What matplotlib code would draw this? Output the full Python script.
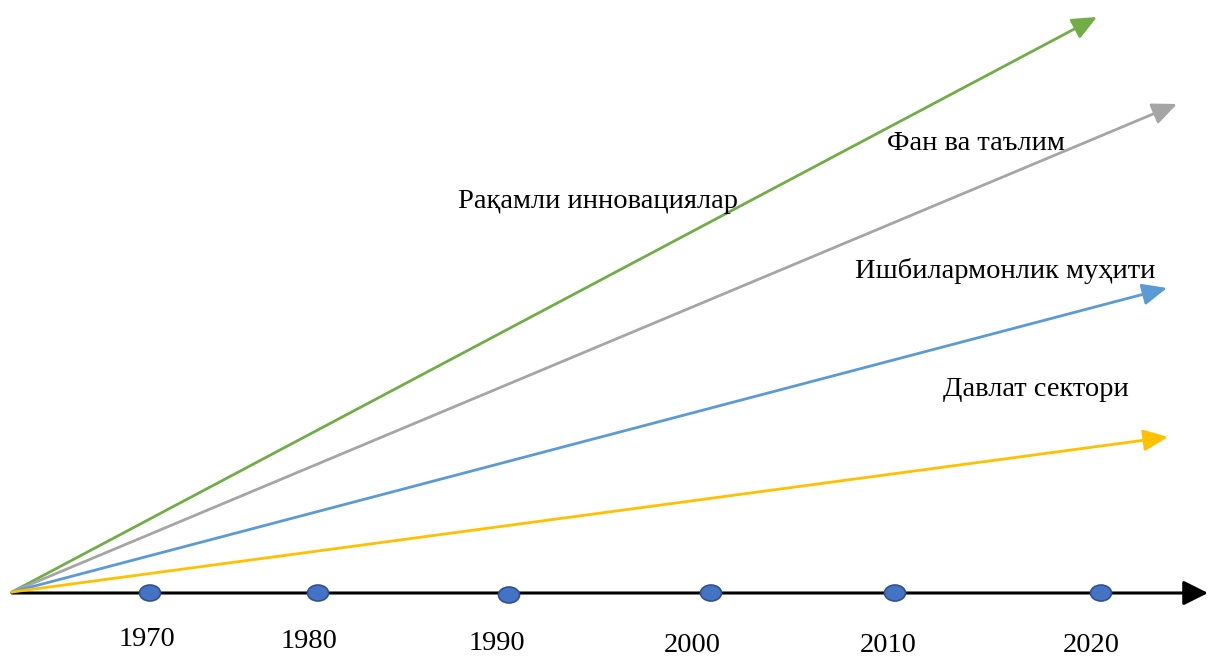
import matplotlib.pyplot as plt
from matplotlib.patches import Ellipse

# years on the time axis
years = [1970, 1980, 1990, 2000, 2010, 2020]

# directions (arrows from the origin) and their labels
labels = ["Рақамли инновациялар", "Фан ва таълим", "Ишбилармонлик муҳити", "Давлат сектори"]
colors = ["#70AD47", "#A5A5A5", "#5B9BD5", "#FFC000"]

# layout in pixel coordinates of the picture
origin = (12, 592)
arrow_ends = [(1097, 17), (1177, 104), (1167, 288), (1168, 437)]
label_pos = [(458, 201), (887, 144), (855, 271), (943, 389)]
dot_x = [150, 318, 509, 711, 895, 1101]
dot_y = [593, 593, 595, 593, 593, 593]
year_pos = [(147, 639), (309, 641), (497, 644), (692, 646), (888, 646), (1091, 646)]

W, H = 1208, 659
fig = plt.figure(figsize=(W / 100, H / 100), dpi=100)
ax = fig.add_axes([0, 0, 1, 1])
ax.set_xlim(0, W)
ax.set_ylim(H, 0)
ax.axis('off')

font = ['Liberation Serif', 'DejaVu Serif']

# time axis
ax.annotate('', xy=(1208, 593), xytext=(origin[0], 593),
            arrowprops=dict(arrowstyle='-|>,head_length=0.5,head_width=0.25', color='black', lw=2.2,
                            mutation_scale=30, shrinkA=0, shrinkB=0))

for (x, y), c in zip(arrow_ends, colors):
    ax.annotate('', xy=(x, y), xytext=origin,
                arrowprops=dict(arrowstyle='-|>,head_length=0.5,head_width=0.22', color=c, lw=2.0,
                                mutation_scale=30, shrinkA=0, shrinkB=0))

for x, y in zip(dot_x, dot_y):
    ax.add_patch(Ellipse((x, y), 21, 16, facecolor='#4472C4', edgecolor='#2F528F',
                         lw=1.2, zorder=5))

for (x, y), yr in zip(year_pos, years):
    ax.text(x, y, str(yr), family=font, fontsize=20.5, ha='center', va='center')

for (x, y), t in zip(label_pos, labels):
    ax.text(x, y, t, family=font, fontsize=20.5, ha='left', va='center')

fig.savefig('out.png', dpi=100)
